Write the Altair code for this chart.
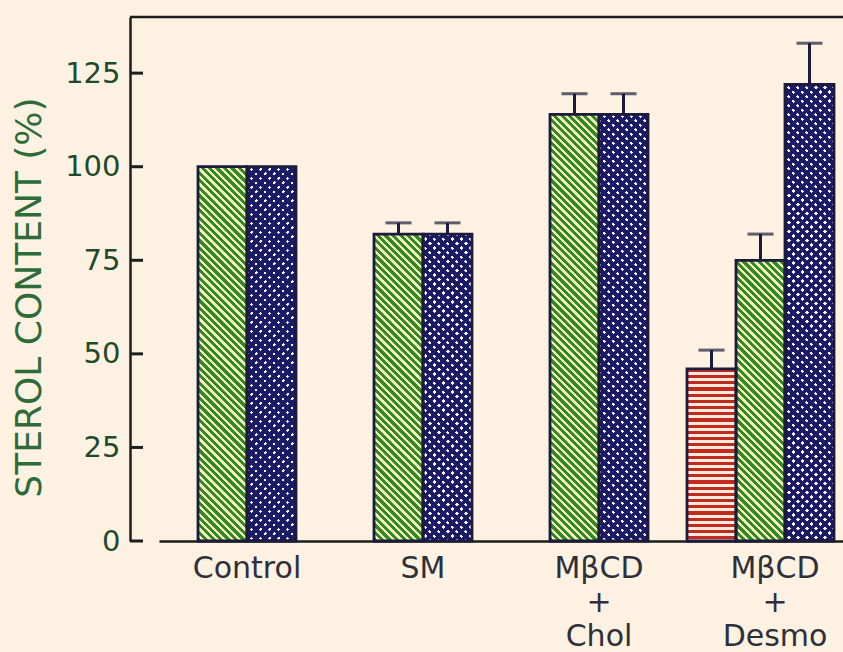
import altair as alt
import pandas as pd

# ---- data -------------------------------------------------------------
groups = ["Control", "SM", "MβCD + Chol", "MβCD + Desmo"]
series = ["lined", "hatched", "dotted"]

lined_values = [None, None, None, 46]
lined_errors = [None, None, None, 5]
hatched_values = [100, 82, 114, 75]
hatched_errors = [0, 3, 5.5, 7]
dotted_values = [100, 82, 114, 122]
dotted_errors = [0, 3, 5.5, 11]

y_ticks = [0, 25, 50, 75, 100, 125]
y_max = 140

# ---- layout / style ---------------------------------------------------
W, H = 713, 524
GROUP_STEP = 176
BAR_W = 49
X_START = 29
FONT = "DejaVu Sans"

BG = "#fdf2e1"
GREEN, PALE = "#338a20", "#f4f0c2"
NAVY, DOT = "#1c1b68", "#f9f6f2"
RED, CREAM = "#c22a20", "#f8ebdc"
OUTLINE = "#1c1b3c"
AXIS = "#1d1d1d"
CLEAR = "rgba(0,0,0,0)"

rows = []
for i, g in enumerate(groups):
    kind = "triple" if lined_values[i] is not None else "pair"
    for s, vals, errs in (("lined", lined_values, lined_errors),
                          ("hatched", hatched_values, hatched_errors),
                          ("dotted", dotted_values, dotted_errors)):
        if vals[i] is None:
            continue
        rows.append({"group": g, "series": s, "value": vals[i],
                     "err": errs[i], "kind": kind})
df = pd.DataFrame(rows)


def px_height(v):
    return v * H / y_max


def stripe_stops(span, period, frac, c_on, c_off):
    stops = []
    pos = 0.0
    while pos < span - 1e-9:
        on_end = min(pos + frac * period, span)
        stops += [(pos / span, c_on), (on_end / span, c_on)]
        if on_end < span:
            off_end = min(pos + period, span)
            stops += [(on_end / span, c_off), (off_end / span, c_off)]
        pos += period
    return [{"offset": round(o, 5), "color": c} for o, c in stops]


def diagonal_fill(w, h, period, frac, c_on, c_off, rising=False):
    # bounding-box gradient whose iso-lines run at 45 degrees in pixel space
    s = (w + h) / (w * w + h * h)
    if rising:
        x1, y1, x2, y2 = 0, 0, w * s, h * s
    else:
        x1, y1, x2, y2 = 0, 1, w * s, 1 - h * s
    return {"gradient": "linear", "x1": x1, "y1": y1, "x2": x2, "y2": y2,
            "stops": stripe_stops(w + h, period, frac, c_on, c_off)}


def horizontal_fill(h, period, frac, c_on, c_off):
    return {"gradient": "linear", "x1": 0, "y1": 0, "x2": 0, "y2": 1,
            "stops": stripe_stops(h, period, frac, c_on, c_off)}


# ---- shared encodings -------------------------------------------------
x_axis = alt.Axis(labelExpr="split(datum.label, ' ')", labelAngle=0,
                  labelFont=FONT, labelFontSize=30, labelColor="#2f2f3a",
                  labelLineHeight=34, labelPadding=12, labelBaseline="top",
                  ticks=False, tickSize=0, domain=True, domainColor=AXIS,
                  domainWidth=2.5, grid=False, title=None)
y_axis = alt.Axis(values=y_ticks, labelFont=FONT, labelFontSize=29,
                  labelColor="#1f4a2a", labelPadding=10, ticks=False,
                  tickSize=0, domain=True, domainColor=AXIS, domainWidth=2.5,
                  grid=False, title="STEROL CONTENT (%)", titleFont=FONT,
                  titleFontSize=36, titleFontWeight="normal",
                  titleColor="#2d6b39", titlePadding=16, titleY=280)
x_scale = alt.Scale(domain=groups, range=[X_START, X_START + 4 * GROUP_STEP],
                    paddingInner=0, paddingOuter=0)
y_scale = alt.Scale(domain=[0, y_max], nice=False)


def x_enc():
    return alt.X("group:N", scale=x_scale, axis=x_axis, sort=groups)


def y_enc(field="value"):
    return alt.Y(f"{field}:Q", scale=y_scale, axis=y_axis,
                 title="STEROL CONTENT (%)")


def off_enc(kind):
    if kind == "pair":
        dom = ["hatched", "dotted"]
        pad = (GROUP_STEP / BAR_W - 2) / 2
        align = 0.5
    else:
        dom = series
        pad = (GROUP_STEP / BAR_W - 3) / 2
        align = 0
    return alt.XOffset("series:N", scale=alt.Scale(
        domain=dom, paddingInner=0, paddingOuter=pad, align=align))


base = alt.Chart(df)
layers = []

# patterned bars, one layer per bar
for r in rows:
    sel = base.transform_filter(
        (alt.datum.group == r["group"]) & (alt.datum.series == r["series"]))
    enc = dict(x=x_enc(), y=y_enc(), xOffset=off_enc(r["kind"]))
    h = px_height(r["value"])
    if r["series"] == "hatched":
        layers.append(sel.mark_bar(
            fill=diagonal_fill(BAR_W, h, 7.5, 0.55, GREEN, PALE)).encode(**enc))
    elif r["series"] == "lined":
        layers.append(sel.mark_bar(
            fill=horizontal_fill(h, 6.2, 0.5, RED, CREAM)).encode(**enc))
    else:
        layers.append(sel.mark_bar(fill=DOT).encode(**enc))
        layers.append(sel.mark_bar(
            fill=diagonal_fill(BAR_W, h, 9, 0.62, NAVY, CLEAR)).encode(**enc))
        layers.append(sel.mark_bar(
            fill=diagonal_fill(BAR_W, h, 9, 0.62, NAVY, CLEAR, rising=True)
        ).encode(**enc))

# outlines and error bars
for kind in ("pair", "triple"):
    sub = base.transform_filter(alt.datum.kind == kind)
    layers.append(sub.mark_bar(fillOpacity=0, stroke=OUTLINE,
                               strokeWidth=2.8).encode(
        x=x_enc(), y=y_enc(), xOffset=off_enc(kind)))
    errs = sub.transform_filter(alt.datum.err > 0).transform_calculate(
        top="datum.value + datum.err")
    layers.append(errs.mark_rule(color=OUTLINE, strokeWidth=3).encode(
        x=x_enc(), y=y_enc(), y2="top:Q", xOffset=off_enc(kind)))
    layers.append(errs.mark_tick(orient="horizontal", color=OUTLINE,
                                 size=26, thickness=3).encode(
        x=x_enc(), y=y_enc("top"), xOffset=off_enc(kind)))

# frame top line and inward y ticks
layers.append(alt.Chart(pd.DataFrame({"top": [y_max]})).mark_rule(
    color=AXIS, strokeWidth=2.5).encode(y=y_enc("top")))
layers.append(alt.Chart(pd.DataFrame({"tick": y_ticks})).mark_rule(
    color=AXIS, strokeWidth=3).encode(
    y=y_enc("tick"), x=alt.value(0), x2=alt.value(13)))

chart = alt.layer(*layers).resolve_scale(xOffset="independent").properties(
    width=W, height=H,
    autosize=alt.AutoSizeParams(type="none"),
    padding={"left": 130, "top": 17, "right": 0, "bottom": 111},
).configure(background=BG).configure_view(stroke=None)

chart.save("out.html", embed_options={"renderer": "svg", "actions": False})
